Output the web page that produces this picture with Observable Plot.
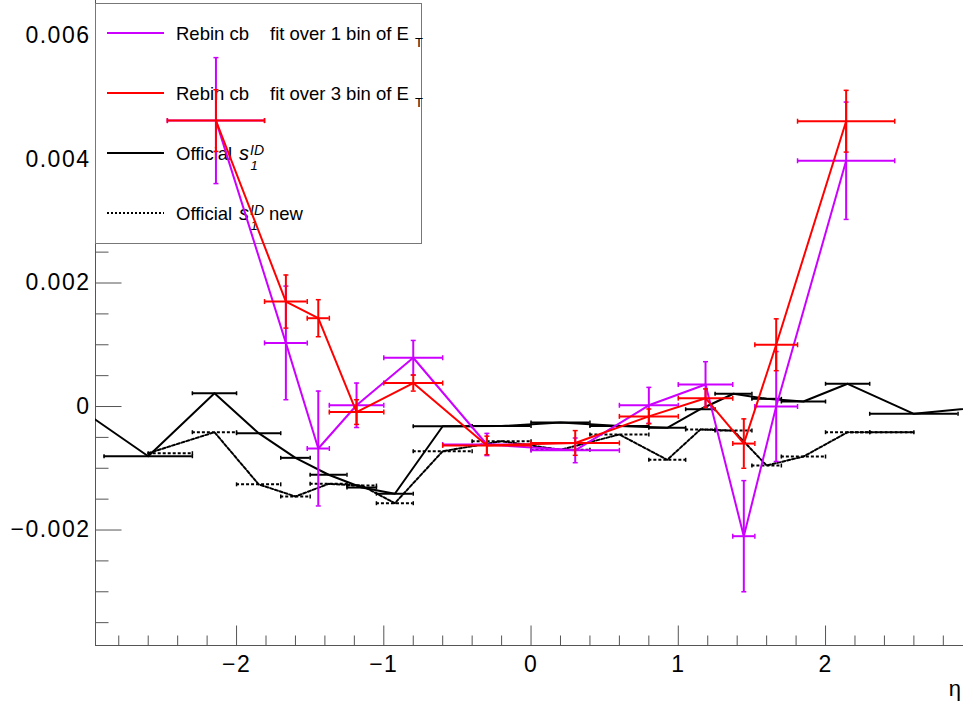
<!DOCTYPE html>
<html><head><meta charset="utf-8">
<script src="https://cdn.jsdelivr.net/npm/d3@7"></script>
<script src="https://cdn.jsdelivr.net/npm/@observablehq/plot@0.6"></script>
<style>
body{margin:0;background:#fff;}
#chart svg{display:block;}
</style></head><body><div id="chart"></div>
<script>
// ---- data ----
const rebinLo = [-2.47, -1.81, -1.52, -1.37, -1.0, -0.6, 0.0, 0.6, 1.0, 1.37, 1.52, 1.81];
const rebinHi = [-1.81, -1.52, -1.37, -1.0, -0.6, 0.0, 0.6, 1.0, 1.37, 1.52, 1.81, 2.47];
const fit1Val = [0.00463, 0.00103, -0.00068, 0.00002, 0.00079, -0.000615, -0.00071, 0.00002, 0.000356, -0.0021, 0.0, 0.00398];
const fit1Err = [0.00102, 0.00092, 0.00093, 0.00036, 0.00028, 0.00018, 0.0002, 0.00029, 0.00037, 0.0009, 0.00089, 0.00095];
const fit3Val = [0.00463, 0.0017, 0.00143, -0.00009, 0.00038, -0.00063, -0.00059, -0.00016, 0.000135, -0.0006, 0.001, 0.00462];
const fit3Err = [0.0005, 0.00043, 0.0003, 0.0002, 0.00013, 0.00015, 0.0002, 0.00012, 0.00015, 0.0004, 0.00042, 0.0005];

const offEta = [-3.1, -2.6, -2.15, -1.85, -1.6, -1.375, -1.15, -0.925, -0.6, -0.2, 0.2, 0.6, 0.925, 1.15, 1.375, 1.6, 1.85, 2.15, 2.6, 3.1];
const offLo  = [-3.2, -2.9, -2.3, -2.0, -1.7, -1.5, -1.25, -1.05, -0.8, -0.4, 0.0, 0.4, 0.8, 1.05, 1.25, 1.5, 1.7, 2.0, 2.3, 3.0];
const offHi  = [-3.0, -2.3, -2.0, -1.7, -1.5, -1.25, -1.05, -0.8, -0.4, 0.0, 0.4, 0.8, 1.05, 1.25, 1.5, 1.7, 2.0, 2.3, 2.9, 3.2];
const offVal = [0.00002, -0.000805, 0.000215, -0.000432, -0.000831, -0.001105, -0.001312, -0.001412, -0.000319, -0.000316, -0.000259, -0.000316, -0.000345, -0.000044, 0.000207, 0.000125, 0.000081, 0.000368, -0.000118, 0.0];

const newEta = [-2.6, -2.15, -1.85, -1.6, -1.375, -1.15, -0.925, -0.6, -0.2, 0.2, 0.6, 0.925, 1.15, 1.375, 1.6, 1.85, 2.15, 2.6];
const newLo  = [-2.6, -2.3, -2.0, -1.7, -1.5, -1.25, -1.05, -0.8, -0.4, 0.0, 0.4, 0.8, 1.05, 1.25, 1.5, 1.7, 2.0, 2.3];
const newHi  = [-2.3, -2.0, -1.7, -1.5, -1.25, -1.05, -0.8, -0.4, 0.0, 0.4, 0.8, 1.05, 1.25, 1.5, 1.7, 2.0, 2.3, 2.6];
const newVal = [-0.000756, -0.000416, -0.00126, -0.001457, -0.001252, -0.00128, -0.001566, -0.000724, -0.000562, -0.0007, -0.000453, -0.000863, -0.000372, -0.00039, -0.000955, -0.00081, -0.000416, -0.000416];

const xMajor = [-2, -1, 0, 1, 2];
const xMajorLabels = ["\u22122", "\u22121", "0", "1", "2"];
const xMinor = [-2.8,-2.6,-2.4,-2.2,-1.8,-1.6,-1.4,-1.2,-0.8,-0.6,-0.4,-0.2,0.2,0.4,0.6,0.8,1.2,1.4,1.6,1.8,2.2,2.4,2.6,2.8];
const yMajor = [-0.002, 0, 0.002, 0.004, 0.006];
const yMajorLabels = ["\u22120.002", "0", "0.002", "0.004", "0.006"];
const yMinor = [-0.0035,-0.003,-0.0025,-0.0015,-0.001,-0.0005,0.0005,0.001,0.0015,0.0025,0.003,0.0035,0.0045,0.005,0.0055,0.0065];
const xDomain = [-2.958, 2.937];
const yDomain = [-0.00387, 0.006575];
const xTitle = ["\u03b7"];

const MAGENTA = "#cc00ff", RED = "#ff0000", AXIS = "#555";
const FONT = "Liberation Sans, Arial, Helvetica, sans-serif";

// ---- symbols (caps and ticks) ----
const vbar = len => ({draw(ctx){ ctx.moveTo(0, -len/2); ctx.lineTo(0, len/2); }});
const hbar = len => ({draw(ctx){ ctx.moveTo(-len/2, 0); ctx.lineTo(len/2, 0); }});
const tickUp = len => ({draw(ctx){ ctx.moveTo(0, 0); ctx.lineTo(0, -len); }});
const tickRight = len => ({draw(ctx){ ctx.moveTo(0, 0); ctx.lineTo(len, 0); }});

function rebinMarks(val, err, color) {
  const rows = rebinLo.map((l, i) => ({lo: l, hi: rebinHi[i], x: (l + rebinHi[i]) / 2, y: val[i], e: err[i]}));
  return [
    Plot.line(rows, {x: "x", y: "y", stroke: color, strokeWidth: 2, clip: true}),
    Plot.ruleY(rows, {y: "y", x1: "lo", x2: "hi", stroke: color, strokeWidth: 2, clip: true}),
    Plot.ruleX(rows, {x: "x", y1: d => d.y - d.e, y2: d => d.y + d.e, stroke: color, strokeWidth: 2, clip: true}),
    Plot.dot(rows, {x: "lo", y: "y", symbol: vbar(5), stroke: color, fill: "none", strokeWidth: 1.5}),
    Plot.dot(rows, {x: "hi", y: "y", symbol: vbar(5), stroke: color, fill: "none", strokeWidth: 1.5}),
    Plot.dot(rows, {x: "x", y: d => d.y - d.e, symbol: hbar(5), stroke: color, fill: "none", strokeWidth: 1.5}),
    Plot.dot(rows, {x: "x", y: d => d.y + d.e, symbol: hbar(5), stroke: color, fill: "none", strokeWidth: 1.5})
  ];
}

function officialMarks(eta, lo, hi, val, dash) {
  const rows = eta.map((x, i) => ({x, lo: lo[i], hi: hi[i], y: val[i]}));
  const dashOpt = dash ? {strokeDasharray: "3,2"} : {};
  return [
    Plot.line(rows, {x: "x", y: "y", stroke: "black", strokeWidth: 2, clip: true, ...dashOpt}),
    Plot.ruleY(rows, {y: "y", x1: "lo", x2: "hi", stroke: "black", strokeWidth: 2, clip: true, ...dashOpt}),
    Plot.dot(rows, {x: "lo", y: "y", symbol: vbar(4), stroke: "black", fill: "none", strokeWidth: 1.5, clip: true}),
    Plot.dot(rows, {x: "hi", y: "y", symbol: vbar(4), stroke: "black", fill: "none", strokeWidth: 1.5, clip: true})
  ];
}

const axisMarks = [
  Plot.ruleX([xDomain[0]], {stroke: AXIS, strokeWidth: 1}),
  Plot.ruleY([yDomain[0]], {stroke: AXIS, strokeWidth: 1}),
  Plot.dot(xMajor, {x: d => d, frameAnchor: "bottom", symbol: tickUp(20), stroke: AXIS, fill: "none", strokeWidth: 1}),
  Plot.dot(xMinor, {x: d => d, frameAnchor: "bottom", symbol: tickUp(10), stroke: AXIS, fill: "none", strokeWidth: 1}),
  Plot.dot(yMajor, {y: d => d, frameAnchor: "left", symbol: tickRight(26), stroke: AXIS, fill: "none", strokeWidth: 1}),
  Plot.dot(yMinor, {y: d => d, frameAnchor: "left", symbol: tickRight(13), stroke: AXIS, fill: "none", strokeWidth: 1}),
  Plot.text(xMajor, {x: d => d, frameAnchor: "bottom", lineAnchor: "top", dy: 10, text: (d, i) => xMajorLabels[i], fontSize: 23, fill: "black"}),
  Plot.text(yMajor, {y: d => d, frameAnchor: "left", dx: -5, textAnchor: "end", text: (d, i) => yMajorLabels[i], fontSize: 23, fill: "black"}),
  Plot.text(xTitle, {frameAnchor: "bottom-right", lineAnchor: "bottom", textAnchor: "end", dx: -1, dy: 50, text: d => d, fontSize: 22, fill: "black"})
];

const svg = Plot.plot({
  width: 963, height: 702,
  marginLeft: 95, marginRight: 0, marginTop: 0, marginBottom: 57,
  style: {fontFamily: FONT, background: "white", overflow: "visible"},
  x: {domain: xDomain, axis: null},
  y: {domain: yDomain, axis: null},
  marks: [
    ...axisMarks,
    ...officialMarks(newEta, newLo, newHi, newVal, true),
    ...officialMarks(offEta, offLo, offHi, offVal, false),
    ...rebinMarks(fit1Val, fit1Err, MAGENTA),
    ...rebinMarks(fit3Val, fit3Err, RED)
  ]
});
d3.select(svg).selectAll("text").attr("letter-spacing", "1.5px");

// ---- legend (drawn beneath the data, as in the original) ----
const groups = Array.from(svg.children).filter(n => n.tagName.toLowerCase() === "g");
const first = groups[axisMarks.length] || null;
const L = d3.create("svg:g").attr("font-family", FONT).attr("fill", "black").attr("text-anchor", "start");
L.append("rect").attr("x", 95.5).attr("y", 3.5).attr("width", 326).attr("height", 240)
  .attr("fill", "white").attr("stroke", "#777").attr("stroke-width", 1);
const legendRows = [
  {c: MAGENTA, dash: null, kind: "fit", n: "1"},
  {c: RED, dash: null, kind: "fit", n: "3"},
  {c: "black", dash: null, kind: "off", extra: ""},
  {c: "black", dash: "2,2", kind: "off", extra: "new"}
];
legendRows.forEach((r, i) => {
  const cy = 33 + 60 * i, base = cy + 6.5;
  L.append("line").attr("x1", 107).attr("x2", 164).attr("y1", cy).attr("y2", cy)
    .attr("stroke", r.c).attr("stroke-width", 2).attr("stroke-dasharray", r.dash);
  if (r.kind === "fit") {
    const t = L.append("text").attr("x", 176).attr("y", base).attr("font-size", 18.5);
    t.append("tspan").text("Rebin cb");
    t.append("tspan").attr("x", 270).text(`fit over ${r.n} bin of E`);
    t.append("tspan").attr("x", 415).attr("dy", 7).attr("font-size", 13).text("T");
  } else {
    const t = L.append("text").attr("x", 176).attr("y", base).attr("font-size", 18.5);
    t.append("tspan").text("Official");
    t.append("tspan").attr("x", 239).attr("font-size", 20).attr("font-style", "italic").text("s");
    t.append("tspan").attr("x", 250).attr("dy", -4.5).attr("font-size", 14).attr("font-style", "italic").text("ID");
    t.append("tspan").attr("x", 250.5).attr("dy", 14.5).attr("font-size", 13).attr("font-style", "italic").text("1");
    if (r.extra) t.append("tspan").attr("x", 269).attr("dy", -10).text(r.extra);
  }
});
svg.insertBefore(L.node(), first);
document.getElementById("chart").appendChild(svg);
</script></body></html>
